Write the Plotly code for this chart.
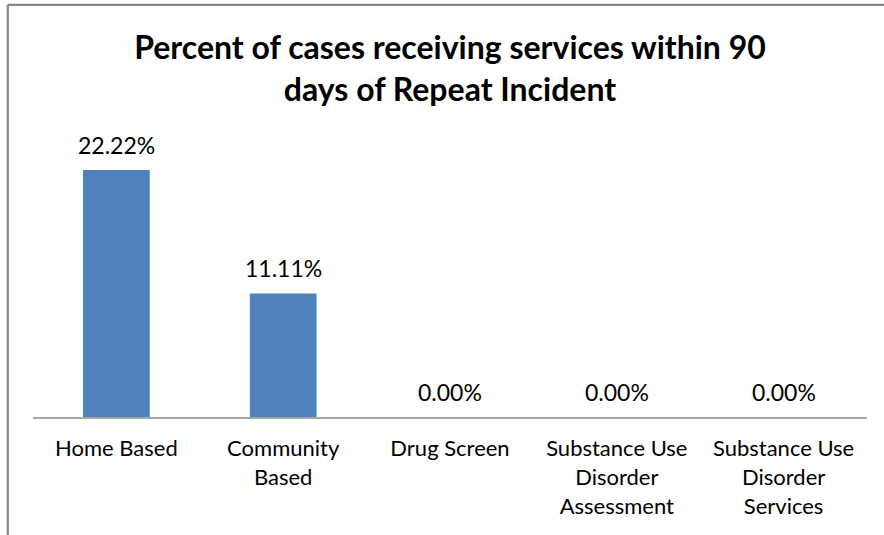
import plotly.graph_objects as go

categories = ["Home Based", "Community Based", "Drug Screen",
              "Substance Use Disorder Assessment", "Substance Use Disorder Services"]
tick_labels = ["Home Based", "Community<br>Based", "Drug Screen",
               "Substance Use<br>Disorder<br>Assessment", "Substance Use<br>Disorder<br>Services"]
values = [22.22, 11.11, 0.00, 0.00, 0.00]
value_labels = ["22.22%", "11.11%", "0.00%", "0.00%", "0.00%"]

title_text = "Percent of cases receiving services within 90<br>days of Repeat Incident"

FONT = "Lato"
W, H = 884, 535
ml, mr, mt, mb = 33, 17, 139, 118

fig = go.Figure()
fig.add_trace(go.Bar(
    x=categories, y=values,
    marker=dict(color="#4F81BD", line=dict(width=0)),
    width=0.4,
    hoverinfo="skip",
))

for c, v, t in zip(categories, values, value_labels):
    fig.add_annotation(x=c, y=v, xref="x", yref="y", text=t, showarrow=False,
                       yanchor="middle", yshift=25,
                       font=dict(family=FONT, size=23, color="#000000"))

pw = W - ml - mr
ph = H - mt - mb
xl = (7.8 - ml) / pw
yt = (H - mb - 4.8) / ph
fig.add_shape(type="line", xref="paper", yref="paper", x0=xl, x1=xl, y0=-1, y1=yt,
              line=dict(color="#878787", width=2.2))
fig.add_shape(type="line", xref="paper", yref="paper", x0=xl, x1=1.2, y0=yt, y1=yt,
              line=dict(color="#878787", width=2.2))

fig.update_layout(
    width=W, height=H,
    margin=dict(l=ml, r=mr, t=mt, b=mb, pad=0),
    paper_bgcolor="white", plot_bgcolor="white",
    showlegend=False,
    title=dict(text=title_text, x=(450 - ml) / pw, xref="paper", xanchor="center",
               y=1 - 59 / H, yanchor="middle",
               font=dict(family=FONT, size=32, color="#000000", weight="bold")),
    xaxis=dict(tickmode="array", tickvals=categories, ticktext=tick_labels,
               showline=True, linecolor="#A6A6A6", linewidth=2,
               ticks="", showgrid=False, zeroline=False,
               tickfont=dict(family=FONT, size=22, color="#000000"),
               ticklabelstandoff=11),
    yaxis=dict(range=[0, 25], visible=False, showgrid=False, zeroline=False),
)

fig.write_html("out.html", config={"displayModeBar": False},
               post_script="document.body.style.margin='0';document.body.style.overflow='hidden';")
